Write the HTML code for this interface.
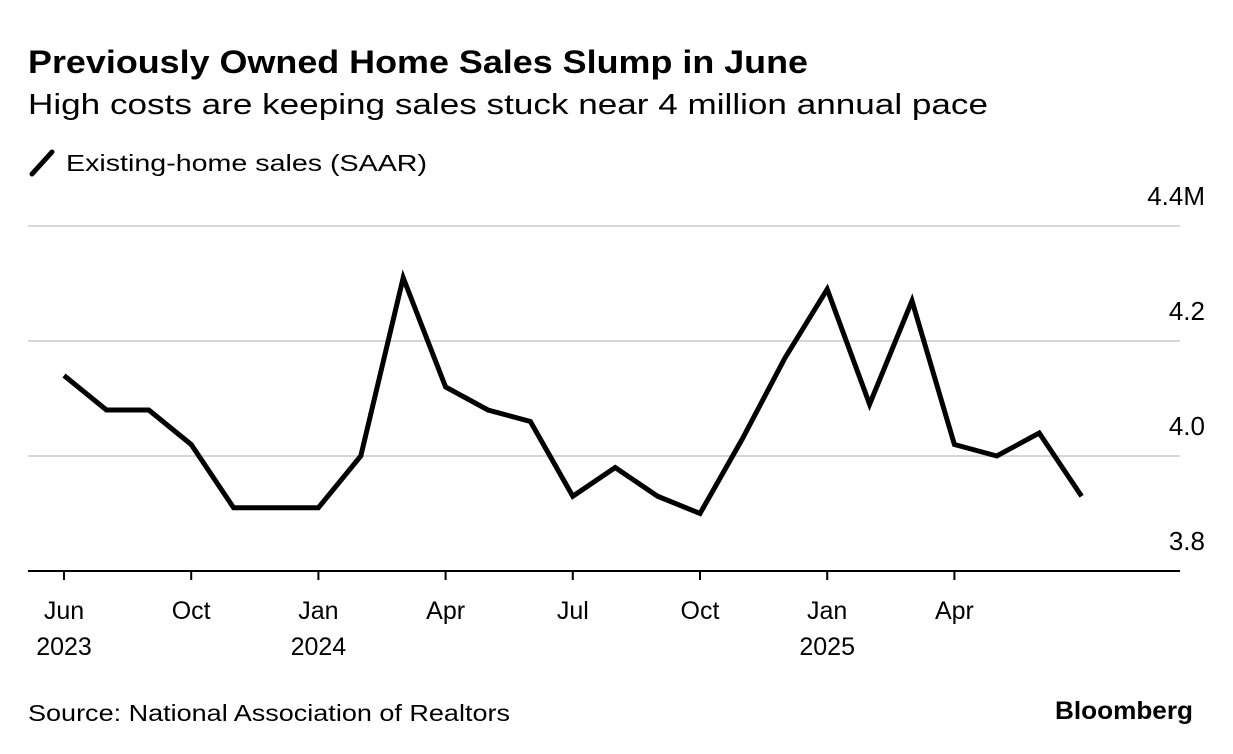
<!DOCTYPE html>
<html><head><meta charset="utf-8"><style>
body{margin:0;background:#fff;font-family:"Liberation Sans",Arial,sans-serif;color:#000;}
#wrap{position:relative;width:1233px;height:754px;overflow:hidden;}
</style></head><body>
<div id="wrap">
<svg id="svg" width="1233" height="754" xmlns="http://www.w3.org/2000/svg" font-family="Liberation Sans, Arial, sans-serif">
<text x="28" y="73" font-size="32" font-weight="bold" textLength="780" lengthAdjust="spacingAndGlyphs">Previously Owned Home Sales Slump in June</text>
<text x="28" y="114" font-size="29" textLength="960" lengthAdjust="spacingAndGlyphs">High costs are keeping sales stuck near 4 million annual pace</text>
<g>
<line x1="32" y1="174" x2="52" y2="152" stroke="#000" stroke-width="5" stroke-linecap="round"/>
<text x="66" y="171" font-size="23" textLength="361" lengthAdjust="spacingAndGlyphs">Existing-home sales (SAAR)</text>
</g>
<g id="grid"></g><g id="xaxis"></g><g id="series"></g>
<text x="28" y="721" font-size="23" textLength="482" lengthAdjust="spacingAndGlyphs">Source: National Association of Realtors</text>
<text x="1193" y="719" font-size="25" font-weight="bold" text-anchor="end" textLength="138" lengthAdjust="spacingAndGlyphs">Bloomberg</text>
</svg></div>
<script>
const values=[4.14,4.08,4.08,4.02,3.91,3.91,3.91,4.00,4.31,4.12,4.08,4.06,3.93,3.98,3.93,3.90,4.03,4.17,4.29,4.09,4.27,4.02,4.00,4.04,3.93];
const yTicks=[3.8,4.0,4.2,4.4];
const yTickLabels=["3.8","4.0","4.2","4.4M"];
const xTickIdx=[0,3,6,9,12,15,18,21];
const xTickLabels=["Jun","Oct","Jan","Apr","Jul","Oct","Jan","Apr"];
const xYearLabels=["2023","","2024","","","","2025",""];
const NS="http://www.w3.org/2000/svg";
const x=i=>64+i*42.4;
const y=v=>571-(v-3.8)*575;
function mk(t,a,p){const e=document.createElementNS(NS,t);for(const k in a)e.setAttribute(k,a[k]);p.appendChild(e);return e;}
const grid=document.getElementById('grid'),xa=document.getElementById('xaxis'),se=document.getElementById('series');
yTicks.forEach((v,i)=>{
 if(i>0){const l=mk('line',{x1:28,x2:1180,y1:y(v),y2:y(v),stroke:'#d6d6d6','stroke-width':2},grid);
 
 }
 const t=mk('text',{x:1205,y:y(v)-21,'font-size':26,'text-anchor':'end'},grid);t.textContent=yTickLabels[i];
 
 
});
const base=mk('line',{x1:28,x2:1180,y1:571,y2:571,stroke:'#000','stroke-width':2},xa);


xTickIdx.forEach((idx,i)=>{
 const tk=mk('line',{x1:x(idx),x2:x(idx),y1:571,y2:580,stroke:'#000','stroke-width':2},xa);
 
 
 const t=mk('text',{x:x(idx),y:619,'font-size':25,'text-anchor':'middle'},xa);t.textContent=xTickLabels[i];
 
 
 if(xYearLabels[i]){const t2=mk('text',{x:x(idx),y:655,'font-size':25,'text-anchor':'middle'},xa);t2.textContent=xYearLabels[i];
 
 }
});
const p=mk('polyline',{points:values.map((v,i)=>x(i)+','+y(v)).join(' '),fill:'none',stroke:'#000','stroke-width':5,'stroke-linejoin':'miter'},se);


</script>
</body></html>
